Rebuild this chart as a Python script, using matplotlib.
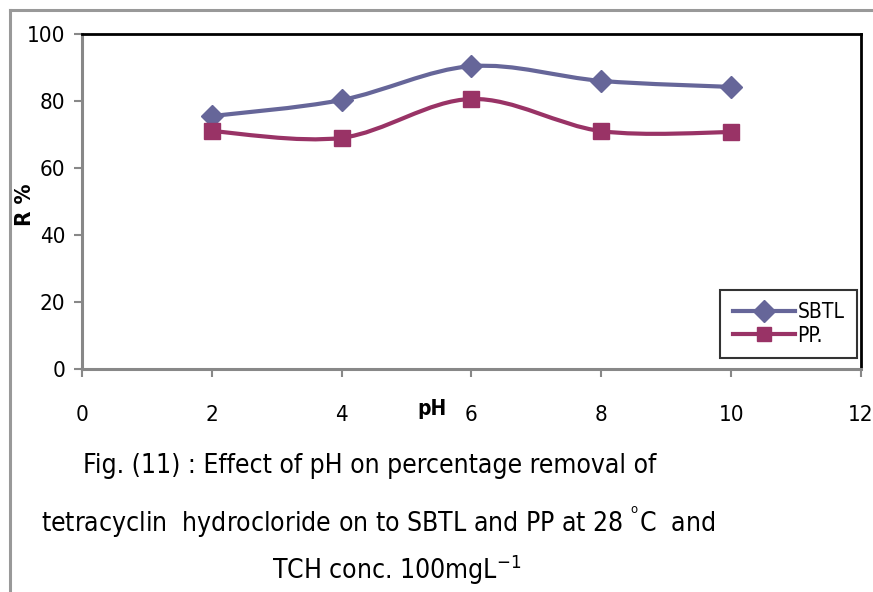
import matplotlib
matplotlib.use("Agg")
import matplotlib.pyplot as plt
from matplotlib.path import Path
from matplotlib.patches import PathPatch
from matplotlib.lines import Line2D
import numpy as np

plt.rcParams['font.family'] = ['DejaVu Sans']
plt.rcParams['font.stretch'] = 'condensed'

ph = [2, 4, 6, 8, 10]
sbtl = [75.5, 80.3, 90.4, 86.0, 84.2]
pp = [71.0, 69.0, 80.6, 71.0, 70.7]
xticks = [0, 2, 4, 6, 8, 10, 12]
yticks = [0, 20, 40, 60, 80, 100]
series_names = ["SBTL", "PP."]
caption = ["Fig. (11) : Effect of pH on percentage removal of",
           "tetracyclin  hydrocloride on to SBTL and PP at 28 $^{^{\\rm o}}$C  and",
           "TCH conc. 100mgL$^{-1}$"]

c_sbtl = "#666699"
c_pp = "#993366"

W, H = 873, 592
fig = plt.figure(figsize=(W / 100, H / 100), dpi=100)

# outer frame (left + top)
fig.add_artist(Line2D([10 / W, 10 / W], [0, 1 - 10 / H], color="#999999", lw=2.2, transform=fig.transFigure))
fig.add_artist(Line2D([10 / W, 1], [1 - 10 / H, 1 - 10 / H], color="#999999", lw=2.2, transform=fig.transFigure))

L, R, T, B = 82, 861, 34, 369
ax = fig.add_axes([L / W, 1 - B / H, (R - L) / W, (B - T) / H])
ax.set_xlim(0, 12)
ax.set_ylim(0, 100)
ax.set_xticks(xticks)
ax.set_yticks(yticks)
ax.tick_params(labelsize=16, length=6, width=1.5, color="#888888", pad=20)
ax.tick_params(axis='y', pad=6)
for s in ["left", "bottom"]:
    ax.spines[s].set_color("#888888")
    ax.spines[s].set_linewidth(2.2)
for s in ["top", "right"]:
    ax.spines[s].set_color("black")
    ax.spines[s].set_linewidth(2)


def smooth_path(x, y):
    pts = np.column_stack([x, y]).astype(float)
    n = len(pts)
    verts = [pts[0]]
    codes = [Path.MOVETO]
    for i in range(n - 1):
        p0 = pts[i - 1] if i > 0 else pts[i]
        p1 = pts[i]
        p2 = pts[i + 1]
        p3 = pts[i + 2] if i + 2 < n else pts[i + 1]
        c1 = p1 + (p2 - p0) / 6.0
        c2 = p2 - (p3 - p1) / 6.0
        verts += [c1, c2, p2]
        codes += [Path.CURVE4] * 3
    return Path(verts, codes)


for ys, col, mk, ms in [(sbtl, c_sbtl, 'D', 11), (pp, c_pp, 's', 11)]:
    patch = PathPatch(smooth_path(ph, ys), facecolor='none', edgecolor=col, lw=3, zorder=2)
    ax.add_patch(patch)
    ax.plot(ph, ys, linestyle='none', marker=mk, markersize=ms, color=col, zorder=3)

ax.set_xlabel("pH", fontsize=15, fontweight='bold')
ax.xaxis.set_label_coords((432 - L) / (R - L), -0.09)
ax.set_ylabel("R %", fontsize=16, fontweight='bold')
ax.yaxis.set_label_coords((35 - L) / (R - L), (B - 205) / (B - T))

handles = [Line2D([], [], color=c_sbtl, lw=3, marker='D', markersize=11),
           Line2D([], [], color=c_pp, lw=3, marker='s', markersize=10)]
leg = ax.legend(handles, series_names, loc='lower right', bbox_to_anchor=((857 - L) / (R - L), (B - 358) / (B - T)),
                fontsize=15, frameon=True, fancybox=False, edgecolor='black', handlelength=3.0,
                handletextpad=0.1, labelspacing=0.15, borderpad=0.6, borderaxespad=0)
leg.get_frame().set_linewidth(1.5)

ys_cap = [466, 522, 570]
xs_cap = [370, 378, 397]
for txt, xp, yp in zip(caption, xs_cap, ys_cap):
    fig.text(xp / W, 1 - yp / H, txt, ha='center', va='center', fontsize=19)

fig.savefig("out.png", dpi=100)
